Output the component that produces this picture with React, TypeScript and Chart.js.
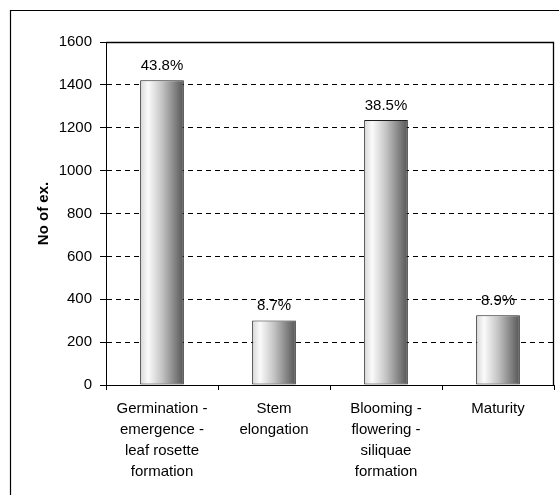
import React, { useEffect, useRef } from "react";
import { Chart, registerables } from "chart.js";

Chart.register(...registerables);

const categories: string[][] = [
  ["Germination -", "emergence -", "leaf rosette", "formation"],
  ["Stem", "elongation"],
  ["Blooming -", "flowering -", "siliquae", "formation"],
  ["Maturity"],
];
const counts: number[] = [1422, 301, 1236, 325];
const percentLabels: string[] = ["43.8%", "8.7%", "38.5%", "8.9%"];
const yTicks: number[] = [0, 200, 400, 600, 800, 1000, 1200, 1400, 1600];
const yTitle = "No of ex.";

const FONT = "'Liberation Sans', Arial, sans-serif";

export default function App() {
  const ref = useRef<HTMLCanvasElement | null>(null);

  useEffect(() => {
    if (!ref.current) return;

    const framePlugin = {
      id: "frame",
      beforeDraw(chart: any) {
        const { ctx, width, height } = chart;
        ctx.save();
        ctx.fillStyle = "#ffffff";
        ctx.fillRect(0, 0, width, height);
        ctx.strokeStyle = "#000000";
        ctx.lineWidth = 1.2;
        ctx.beginPath();
        ctx.moveTo(10.5, height + 5);
        ctx.lineTo(10.5, 10.5);
        ctx.lineTo(width + 5, 10.5);
        ctx.stroke();
        ctx.restore();
      },
      afterDatasetsDraw(chart: any) {
        const { ctx, chartArea } = chart;
        ctx.save();
        ctx.strokeStyle = "#000000";
        ctx.lineWidth = 1.3;
        const l = Math.round(chartArea.left) + 0.5;
        const t = Math.round(chartArea.top) + 0.5;
        const r = Math.round(chartArea.right) - 0.5;
        const b = Math.round(chartArea.bottom) + 0.5;
        ctx.beginPath();
        ctx.moveTo(l, t);
        ctx.lineTo(r, t);
        ctx.lineTo(r, b);
        ctx.stroke();
        // percentage labels above bars
        const meta = chart.getDatasetMeta(0);
        ctx.fillStyle = "#000000";
        ctx.font = `15px ${FONT}`;
        ctx.textAlign = "center";
        ctx.textBaseline = "alphabetic";
        meta.data.forEach((el: any, i: number) => {
          ctx.fillText(percentLabels[i], el.x, el.y - 10);
        });
        ctx.restore();
      },
    };

    const chart = new Chart(ref.current, {
      type: "bar",
      data: {
        labels: categories as any,
        datasets: [
          {
            data: counts,
            borderColor: "#1e1e1e",
            borderWidth: 1,
            borderSkipped: false,
            categoryPercentage: 1,
            barPercentage: 0.39,
            backgroundColor: (c: any) => {
              const chart = c.chart;
              const area = chart.chartArea;
              if (!area) return "#bbbbbb";
              const xs = chart.scales.x;
              const cx = xs.getPixelForValue(c.dataIndex);
              const w = ((area.right - area.left) / categories.length) * 0.39;
              const g = chart.ctx.createLinearGradient(cx - w / 2, 0, cx + w / 2, 0);
              g.addColorStop(0, "#d6d6d6");
              g.addColorStop(0.18, "#fbfbfb");
              g.addColorStop(0.5, "#c4c4c4");
              g.addColorStop(1, "#555555");
              return g;
            },
          },
        ],
      },
      options: {
        responsive: false,
        animation: false,
        devicePixelRatio: 1,
        layout: { padding: { left: 10, top: 42, right: 5, bottom: 0 } },
        plugins: {
          legend: { display: false },
          tooltip: { enabled: false },
        },
        scales: {
          x: {
            grid: {
              display: true,
              drawOnChartArea: false,
              drawTicks: true,
              tickLength: 5,
              color: "#000000",
              offset: true,
            },
            border: { display: true, color: "#000000" },
            ticks: {
              color: "#000000",
              font: { family: FONT, size: 15, lineHeight: 1.4 },
              padding: 8,
              maxRotation: 0,
              autoSkip: false,
            },
            afterFit: (s: any) => {
              s.height = 110;
            },
          },
          y: {
            min: 0,
            max: 1600,
            afterBuildTicks: (s: any) => {
              s.ticks = yTicks.map((v) => ({ value: v }));
            },
            grid: {
              color: (c: any) =>
                c.tick && (c.tick.value === 0 || c.tick.value === 1600)
                  ? "rgba(0,0,0,0)"
                  : "#000000",
              tickColor: "#000000",
              tickLength: 6,
              lineWidth: 1,
            },
            border: { display: true, color: "#000000", dash: [5, 4] },
            ticks: {
              color: "#000000",
              font: { family: FONT, size: 15 },
              padding: 8,
              callback: (v: any) => String(v),
            },
            title: {
              display: true,
              text: yTitle,
              color: "#000000",
              font: { family: FONT, size: 15, weight: "bold" },
              padding: { top: 25, bottom: 0 },
            },
            afterFit: (s: any) => {
              s.width = 96;
            },
          },
        },
      },
      plugins: [framePlugin],
    } as any);

    return () => chart.destroy();
  }, []);

  return (
    <div style={{ position: "absolute", left: 0, top: 0, width: 559, height: 495, background: "#fff" }}>
      <canvas ref={ref} width={559} height={495} style={{ width: 559, height: 495, display: "block" }} />
    </div>
  );
}
